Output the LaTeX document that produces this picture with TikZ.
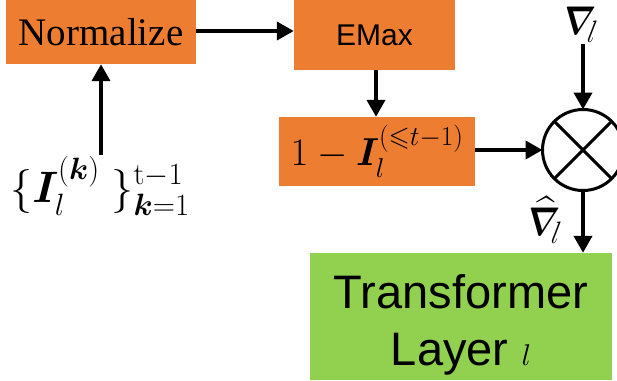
\RequirePackage{fix-cm}
\documentclass[tikz,border=0pt]{standalone}
\usepackage{amsmath,amssymb,bm}
\usepackage{fontspec}
\newfontfamily\serifface{Liberation Serif}
\newfontfamily\sansface{Liberation Sans}
\usetikzlibrary{arrows.meta}
\definecolor{boxorange}{HTML}{ED7D31}
\definecolor{boxgreen}{HTML}{92D050}
\newcommand{\layerindex}{\text{\fontsize{31}{31}\selectfont$l$}}
\tikzset{
  orangebox/.style={fill=boxorange, draw=none, inner sep=0pt},
  flow/.style={line width=4pt, -{Triangle[length=17pt,width=18pt]}},
  mathlbl/.style={inner sep=1pt},
  gradlbl/.style={inner sep=1pt, xscale=0.82, xslant=0.22, transform shape,
                  font=\fontsize{40}{42}\selectfont}
}
\begin{document}
\begin{tikzpicture}[x=1pt,y=-1pt]
\useasboundingbox (0,0) rectangle (617,380);

% processing blocks
\node[orangebox, minimum width=190pt, minimum height=64pt,
      font=\serifface\fontsize{39}{41}\selectfont] (norm) at (101,32) {Normalize};
\node[orangebox, minimum width=161pt, minimum height=70pt,
      font=\sansface\fontsize{30}{32}\selectfont] (emax) at (374.5,35) {EMax};
\node[orangebox, minimum width=196pt, minimum height=69pt,
      font=\fontsize{39}{41}\selectfont] (comp) at (377,151.5)
      {$1-\bm{I}_l^{(\leqslant t-1)}$};

% element-wise product
\node[draw, circle, line width=3pt, minimum size=81pt, inner sep=0pt, outer sep=0pt]
      (mult) at (583,150) {};
\draw[line width=3pt] (mult.north east) -- (mult.south west)
                      (mult.north west) -- (mult.south east);

% transformer layer
\node[fill=boxgreen, minimum width=302pt, minimum height=127pt, inner sep=0pt]
      (layer) at (461,316.5) {};
\node[align=center, inner sep=0pt, font=\sansface\fontsize{47}{57}\selectfont]
      (layertext) at (461,324.5) {Transformer\\Layer {\fontsize{30}{30}\selectfont$l$}};

% gradient labels
\node[gradlbl] (grad) at (580,25) {$\bm{\nabla}_{\!\layerindex}$};
\node[gradlbl] (gradhat) at (545,220) {$\widehat{\bm{\nabla}}_{\!\layerindex}$};
\node[mathlbl, font=\fontsize{44}{46}\selectfont] (input) at (100,186)
      {$\{\bm{I}_l^{(\bm{k})}\hspace{12pt}\}_{\bm{k}=1}^{\mathrm{t}-1}$};

% connectors
\draw[flow] (norm.east |- 0,31) -- (emax.west |- 0,31);
\draw[flow] (input.north -| norm.south) -- (norm.south);
\draw[flow] (emax.south -| 376,0) -- (comp.north -| 376,0);
\draw[flow] (comp.east |- mult.west) -- (mult.west);
\draw[flow] (grad.south -| mult.north) -- (mult.north);
\draw[flow] (mult.south) -- (layer.north -| mult.south);
\end{tikzpicture}
\end{document}
